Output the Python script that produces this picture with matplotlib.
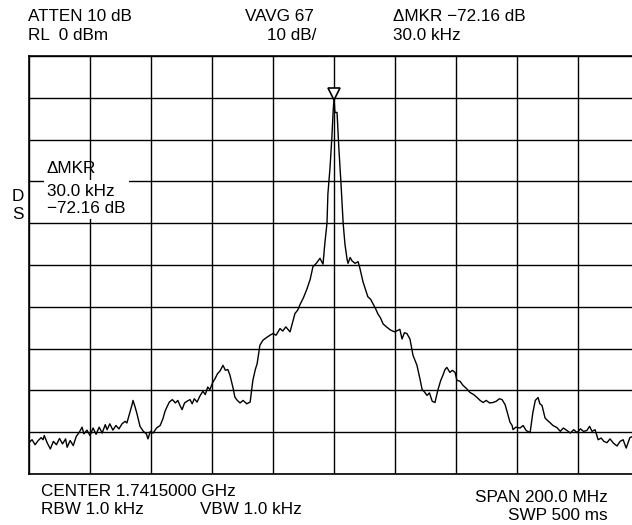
import matplotlib
matplotlib.use('Agg')
import matplotlib.pyplot as plt

# odczytane wartosci widma (przesuniecie od srodka w MHz, poziom w dBm)
freq_mhz = [
    -100, -99, -98, -97, -96, -95.4, -95, -94, -93, -92, -91, -90, -89, -88, -87.5,
    -86.5, -85.5, -84.5, -83.5, -82.6, -82, -81, -80, -79, -78, -77, -76, -75, -74.4,
    -73.5, -72.5, -71.5, -70.5, -69.5, -68.5, -67.9, -67, -66.2, -65.9, -65.2, -64.6,
    -63.6, -62.5, -61.5, -61.0, -60.2, -59.3, -58.2, -57.0, -56.1, -55.4, -54.8, -54.0,
    -53.0, -52.0, -51.2, -50.5, -49.8, -49.0, -48.2, -47.2, -46.5, -45.8, -44.9, -44.0,
    -43.0, -42.2, -41.4, -40.7, -39.7, -39.0, -38.2, -37.4, -36.4, -35.6, -34.8, -34.1,
    -33.1, -32.5, -31.7, -30.8, -29.8, -28.6, -27.5, -26.6, -25.8, -25.2, -24.3, -23.3,
    -22.2, -21.0, -20.0, -19.0, -17.7, -16.8, -15.8, -14.4, -13.6, -12.8, -11.9, -11.1,
    -10.0, -8.9, -7.8, -6.9, -5.8, -4.6, -3.6, -3.0, -2.3, -2.0, -1.3, -0.7, -0.3, 0.0,
    0.3, 1.0, 1.6, 2.3, 3.0, 3.6, 4.3, 4.6, 5.3, 5.9, 6.9, 7.9, 8.5, 9.5, 10.3, 11.1,
    12.0, 12.8, 13.6, 14.4, 15.2, 16.1, 17.2, 18.4, 19.2, 20.0, 21.0, 21.6, 22.3, 23.1,
    23.9, 24.9, 25.9, 27.2, 28.2, 28.9, 29.7, 30.5, 31.3, 32.2, 33.1, 34.1, 35.0, 35.7,
    36.4, 37.0, 38.0, 38.8, 39.7, 40.3, 41.3, 42.3, 43.5, 44.6, 45.8, 46.9, 47.9, 48.9,
    49.9, 51.0, 52.1, 53.2, 54.2, 55.1, 56.1, 57.0, 57.7, 58.4, 58.7, 59.6, 61.0, 62.0,
    63.0, 64.3, 65.2, 66.0, 66.9, 67.5, 68.2, 69.2, 70.0, 70.8, 71.8, 73.1, 74.2, 75.2,
    76.4, 77.5, 78.6, 79.7, 80.8, 81.8, 82.9, 83.8, 84.6, 85.6, 86.6, 87.6, 88.5, 89.5,
    90.5, 91.6, 92.8, 93.8, 94.8, 95.8, 97.0, 98.0, 99.0, 100,
]
level_db = [
    -92.5, -91.8, -93.0, -92.0, -91.3, -91.8, -90.8, -92.6, -94.0, -92.2, -93.0, -91.5, -92.8, -91.6, -93.6,
    -92.0, -93.2, -91.0, -90.0, -88.8, -90.4, -89.5, -90.8, -89.0, -90.5, -88.8, -90.2, -88.2, -89.4,
    -88.0, -89.5, -88.4, -89.2, -88.0, -87.4, -87.8, -85.5, -83.4, -82.4, -84.0, -85.6,
    -88.6, -89.8, -90.4, -91.6, -89.8, -90.2, -89.0, -88.4, -86.8, -85.0, -84.0, -82.8,
    -82.2, -83.0, -82.4, -83.6, -84.6, -83.0, -82.6, -82.2, -83.2, -82.0, -82.8, -81.4,
    -80.2, -81.0, -79.2, -79.8, -78.0, -77.2, -76.0, -75.4, -74.0, -75.2, -75.0, -76.4,
    -79.4, -81.6, -82.4, -83.0, -82.4, -83.2, -82.8, -77.6, -75.0, -73.6, -69.2, -68.0,
    -67.4, -66.8, -66.4, -66.8, -65.2, -65.8, -64.8, -66.0, -63.8, -61.6, -60.8, -59.4,
    -57.8, -55.8, -53.4, -50.4, -49.6, -48.4, -49.8, -44.8, -40.0, -33.0, -26.7, -19.5, -13.5, -10.1,
    -13.5, -13.5, -22.2, -30.6, -40.0, -45.1, -48.7, -49.6, -48.2, -49.0, -49.6, -49.2, -50.8, -54.0, -55.8, -57.6,
    -58.2, -59.3, -60.4, -61.7, -62.6, -64.1, -64.8, -65.5, -65.8, -66.0, -65.6, -65.4, -67.7, -66.2,
    -66.4, -67.7, -71.6, -74.0, -77.3, -79.8, -80.4, -81.2, -80.6, -82.6, -82.9, -79.8, -77.6, -76.4,
    -75.0, -74.5, -75.7, -75.2, -75.7, -77.6, -77.8, -78.8, -79.6, -80.5, -81.0, -81.7, -82.4, -82.9,
    -82.4, -83.0, -82.9, -82.6, -82.0, -82.2, -83.4, -85.8, -87.6, -88.4, -89.4, -88.8, -89.0, -88.4,
    -89.6, -90.1, -85.3, -82.4, -81.7, -83.2, -83.6, -86.6, -87.2, -87.7, -88.4, -88.9, -89.8, -89.0,
    -89.6, -90.2, -89.4, -90.1, -89.2, -89.8, -89.6, -88.6, -89.8, -89.4, -91.8, -91.4, -92.2, -92.5,
    -91.6, -92.6, -93.3, -92.2, -91.8, -93.8, -91.3, -91.0, -90.6, -91.0,
]

# znacznik (delta marker) na szczycie
marker_mhz = 0.0
marker_db = -9.0

W, H = 632, 525
plt.rcParams['font.family'] = ['Liberation Sans', 'DejaVu Sans']
fig = plt.figure(figsize=(W / 100, H / 100), dpi=100)


def px(x, y):
    # piksele obrazka -> wspolrzedne figury
    return x / W, 1 - y / H


# ekran analizatora: 10 x 10 dzialek, prawa krawedz ucieta
left, top, right, bottom = 29, 56, 639, 474
ax = fig.add_axes((left / W, 1 - bottom / H, (right - left) / W, (bottom - top) / H))
ax.set_xlim(-100, 100)
ax.set_ylim(-100, 0)
ax.set_xticks(range(-100, 101, 20))
ax.set_yticks(range(-100, 1, 10))
ax.grid(True, color='black', linewidth=1.0)
ax.tick_params(length=0, labelbottom=False, labelleft=False)
for s in ax.spines.values():
    s.set_linewidth(1.2)

ax.plot(freq_mhz, level_db, color='black', linewidth=1.0, zorder=3)
ax.plot([marker_mhz], [marker_db], marker='v', markersize=8, markerfacecolor='white',
        markeredgecolor='black', markeredgewidth=1.2, linestyle='none', zorder=4)

fs = 12.3
# napisy nad ekranem
fig.text(*px(28, 21), 'ATTEN 10 dB', fontsize=fs, va='baseline')
fig.text(*px(28, 40), 'RL  0 dBm', fontsize=fs, va='baseline')
fig.text(*px(245, 21), 'VAVG 67', fontsize=fs, va='baseline')
fig.text(*px(316, 40), '10 dB/', fontsize=fs, va='baseline', ha='right')
fig.text(*px(393, 21), '\u0394MKR \u221272.16 dB', fontsize=fs, va='baseline')
fig.text(*px(393, 40), '30.0 kHz', fontsize=fs, va='baseline')

# opis znacznika na ekranie
fig.text(*px(47, 173), '\u0394MKR', fontsize=fs, va='baseline')
fig.text(*px(47, 213), '30.0 kHz\n\u221272.16 dB', fontsize=fs, va='baseline',
         linespacing=1.2, bbox=dict(facecolor='white', edgecolor='none', pad=2.5))
fig.text(*px(12, 201), 'D', fontsize=fs, va='baseline')
fig.text(*px(12, 219), 'S', fontsize=fs, va='baseline')

# napisy pod ekranem
fig.text(*px(41, 496), 'CENTER 1.7415000 GHz', fontsize=fs, va='baseline')
fig.text(*px(41, 514), 'RBW 1.0 kHz', fontsize=fs, va='baseline')
fig.text(*px(200, 514), 'VBW 1.0 kHz', fontsize=fs, va='baseline')
fig.text(*px(608, 502), 'SPAN 200.0 MHz', fontsize=fs, va='baseline', ha='right')
fig.text(*px(608, 520), 'SWP 500 ms', fontsize=fs, va='baseline', ha='right')

fig.savefig('out.png', dpi=100)
